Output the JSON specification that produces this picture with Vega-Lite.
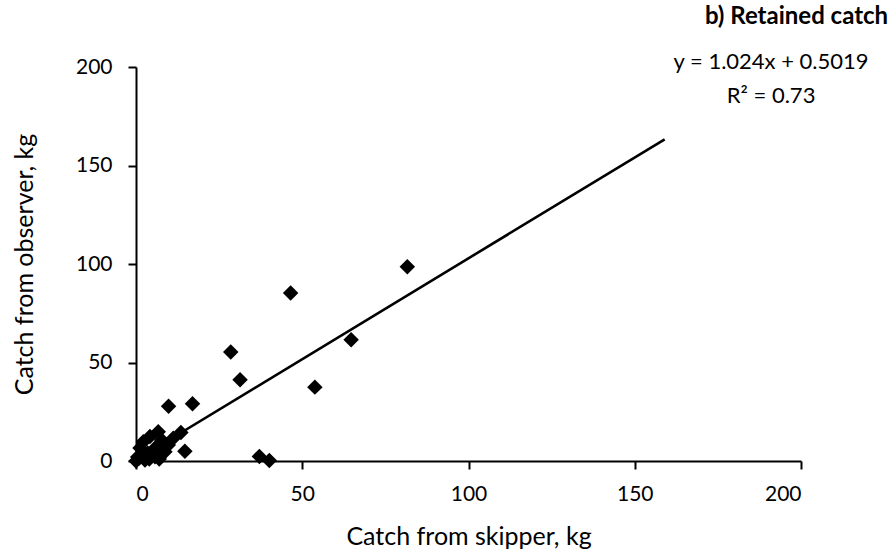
{
  "$schema": "https://vega.github.io/schema/vega-lite/v6.json",
  "width": 665,
  "height": 394,
  "autosize": {"type": "none"},
  "padding": {"left": 136, "top": 67, "right": 92, "bottom": 94},
  "background": "white",
  "config": {
    "view": {"stroke": null},
    "font": "Lato",
    "axis": {
      "grid": false,
      "domainColor": "black",
      "domainWidth": 2,
      "tickColor": "black",
      "tickWidth": 2,
      "tickSize": 8,
      "labelFont": "Lato",
      "labelFontSize": 21,
      "labelColor": "black",
      "titleFont": "Lato",
      "titleFontSize": 25,
      "titleFontWeight": "normal",
      "titleColor": "black"
    }
  },
  "datasets": {
    "pts": [
      {"skipper": 81.6, "observer": 98.6},
      {"skipper": 46.5, "observer": 85.3},
      {"skipper": 64.7, "observer": 61.6},
      {"skipper": 53.8, "observer": 37.5},
      {"skipper": 31.3, "observer": 41.2},
      {"skipper": 28.5, "observer": 55.3},
      {"skipper": 17.0, "observer": 29.0},
      {"skipper": 9.8, "observer": 27.8},
      {"skipper": 37.1, "observer": 2.3},
      {"skipper": 40.1, "observer": 0.2},
      {"skipper": 14.7, "observer": 4.9},
      {"skipper": 13.5, "observer": 14.5},
      {"skipper": 0, "observer": 0},
      {"skipper": 0.5, "observer": 2},
      {"skipper": 1.2, "observer": 6.6},
      {"skipper": 2.2, "observer": 9.8},
      {"skipper": 4.2, "observer": 12.4},
      {"skipper": 6.7, "observer": 14.9},
      {"skipper": 7.7, "observer": 10.7},
      {"skipper": 9.7, "observer": 8.1},
      {"skipper": 11.2, "observer": 11.5},
      {"skipper": 8.7, "observer": 4.7},
      {"skipper": 5.7, "observer": 2.2},
      {"skipper": 2.7, "observer": 0.5},
      {"skipper": 3.5, "observer": 4},
      {"skipper": 6, "observer": 7},
      {"skipper": 1, "observer": 1.5},
      {"skipper": 4, "observer": 1},
      {"skipper": 7, "observer": 1}
    ],
    "fit": [
      {"skipper": 0, "observer": 0.5019},
      {"skipper": 159, "observer": 163.3}
    ],
    "notes": [
      {"x": 226.2, "y": 225.4, "label": "b) Retained catch", "kind": "title"},
      {"x": 191, "y": 202.5, "label": "y = 1.024x + 0.5019", "kind": "eq"},
      {"x": 191, "y": 185.2, "label": "R² = 0.73", "kind": "eq"}
    ]
  },
  "layer": [
    {
      "data": {"name": "fit"},
      "mark": {"type": "line", "color": "black", "strokeWidth": 2.6},
      "encoding": {
        "x": {"field": "skipper", "type": "quantitative", "scale": {"domain": [0, 200]},
          "axis": {"values": [0, 50, 100, 150, 200], "title": "Catch from skipper, kg", "labelPadding": 14, "titlePadding": 20}},
        "y": {"field": "observer", "type": "quantitative", "scale": {"domain": [0, 200]},
          "axis": {"values": [0, 50, 100, 150, 200], "title": "Catch from observer, kg", "labelPadding": 16, "titlePadding": 38}}
      }
    },
    {
      "data": {"name": "pts"},
      "mark": {"type": "point", "shape": "diamond", "filled": true, "color": "black", "opacity": 1, "size": 240},
      "encoding": {
        "x": {"field": "skipper", "type": "quantitative"},
        "y": {"field": "observer", "type": "quantitative"}
      }
    },
    {
      "data": {"name": "notes"},
      "transform": [{"filter": "datum.kind == 'title'"}],
      "mark": {"type": "text", "align": "right", "baseline": "middle", "fontSize": 24, "fontWeight": "bold", "font": "Lato", "color": "black"},
      "encoding": {
        "x": {"field": "x", "type": "quantitative"},
        "y": {"field": "y", "type": "quantitative"},
        "text": {"field": "label"}
      }
    },
    {
      "data": {"name": "notes"},
      "transform": [{"filter": "datum.kind == 'eq'"}],
      "mark": {"type": "text", "align": "center", "baseline": "middle", "fontSize": 22, "font": "Lato", "color": "black"},
      "encoding": {
        "x": {"field": "x", "type": "quantitative"},
        "y": {"field": "y", "type": "quantitative"},
        "text": {"field": "label"}
      }
    }
  ]
}
